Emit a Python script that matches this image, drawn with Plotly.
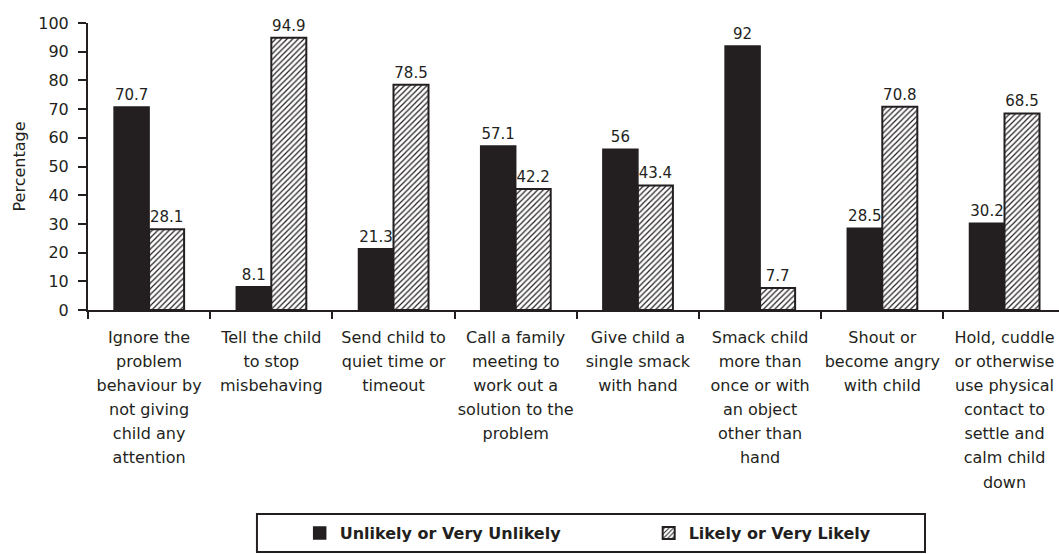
import plotly.graph_objects as go

categories = [
    "Ignore the<br>problem<br>behaviour by<br>not giving<br>child any<br>attention",
    "Tell the child<br>to stop<br>misbehaving",
    "Send child to<br>quiet time or<br>timeout",
    "Call a family<br>meeting to<br>work out a<br>solution to the<br>problem",
    "Give child a<br>single smack<br>with hand",
    "Smack child<br>more than<br>once or with<br>an object<br>other than<br>hand",
    "Shout or<br>become angry<br>with child",
    "Hold, cuddle<br>or otherwise<br>use physical<br>contact to<br>settle and<br>calm child<br>down",
]
unlikely = [70.7, 8.1, 21.3, 57.1, 56, 92, 28.5, 30.2]
likely = [28.1, 94.9, 78.5, 42.2, 43.4, 7.7, 70.8, 68.5]
series_names = ["Unlikely or Very Unlikely", "Likely or Very Likely"]

FONT = "DejaVu Sans"
INK = "#231f20"

# tick labels: 16px glyphs, with a larger base font for wider line spacing
ticktext = ["<br>".join(f"<span style='font-size:16px'>{ln}</span>" for ln in c.split("<br>"))
            for c in categories]

fig = go.Figure()
fig.add_trace(go.Bar(
    x=categories, y=unlikely, name=series_names[0],
    marker=dict(color=INK, line=dict(color=INK, width=1.5)),
    text=[f"{v:g}" for v in unlikely], textposition="outside",
    textfont=dict(family=FONT, size=15, color=INK), cliponaxis=False,
))
fig.add_trace(go.Bar(
    x=categories, y=likely, name=series_names[1],
    marker=dict(color="white", line=dict(color=INK, width=2),
                pattern=dict(shape="/", bgcolor="white", fgcolor=INK,
                             size=4, solidity=0.3, fillmode="replace")),
    text=[f"{v:g}" for v in likely], textposition="outside",
    textfont=dict(family=FONT, size=15, color=INK), cliponaxis=False,
))

# legend frame (paper coords relative to plot area)
fig.add_shape(type="rect", xref="paper", yref="paper",
              x0=0.174, x1=0.862, y0=-0.843, y1=-0.7108,
              line=dict(color=INK, width=2), fillcolor="rgba(0,0,0,0)", layer="above")

fig.update_layout(
    template="none",
    width=1059, height=554,
    margin=dict(l=88, r=0, t=23, b=244, autoexpand=False),
    paper_bgcolor="white", plot_bgcolor="white",
    barmode="group", bargap=0.427, bargroupgap=0,
    font=dict(family=FONT, size=16, color=INK),
    showlegend=True,
    legend=dict(
        orientation="h", x=0.218, xanchor="left", y=-0.777, yanchor="middle",
        xref="paper", yref="paper",
        borderwidth=0, bgcolor="rgba(0,0,0,0)",
        font=dict(family=FONT, size=16, color=INK, weight="bold"),
        entrywidth=304, itemwidth=30,
        traceorder="normal",
    ),
)
fig.update_xaxes(
    type="category", range=[-0.5, 7.446], automargin=False,
    tickmode="array", tickvals=categories, ticktext=ticktext,
    showline=True, linecolor=INK, linewidth=2,
    ticks="outside", tickson="boundaries", ticklen=7, tickwidth=2, tickcolor=INK,
    ticklabelstandoff=9,
    tickfont=dict(family=FONT, size=18.5, color=INK),
    showgrid=False, zeroline=False, tickangle=0,
)
fig.update_yaxes(
    range=[0, 100], dtick=10, automargin=False,
    showline=True, linecolor=INK, linewidth=2,
    ticks="outside", ticklen=8, tickwidth=2, tickcolor=INK,
    ticklabelstandoff=6,
    tickfont=dict(family=FONT, size=16, color=INK),
    showgrid=False, zeroline=False,
    title=dict(text="Percentage", font=dict(family=FONT, size=16, color=INK), standoff=9),
)

fig.write_html(
    "out.html",
    config={"displayModeBar": False},
    post_script="document.body.style.margin='0';document.body.style.overflow='hidden';",
)
